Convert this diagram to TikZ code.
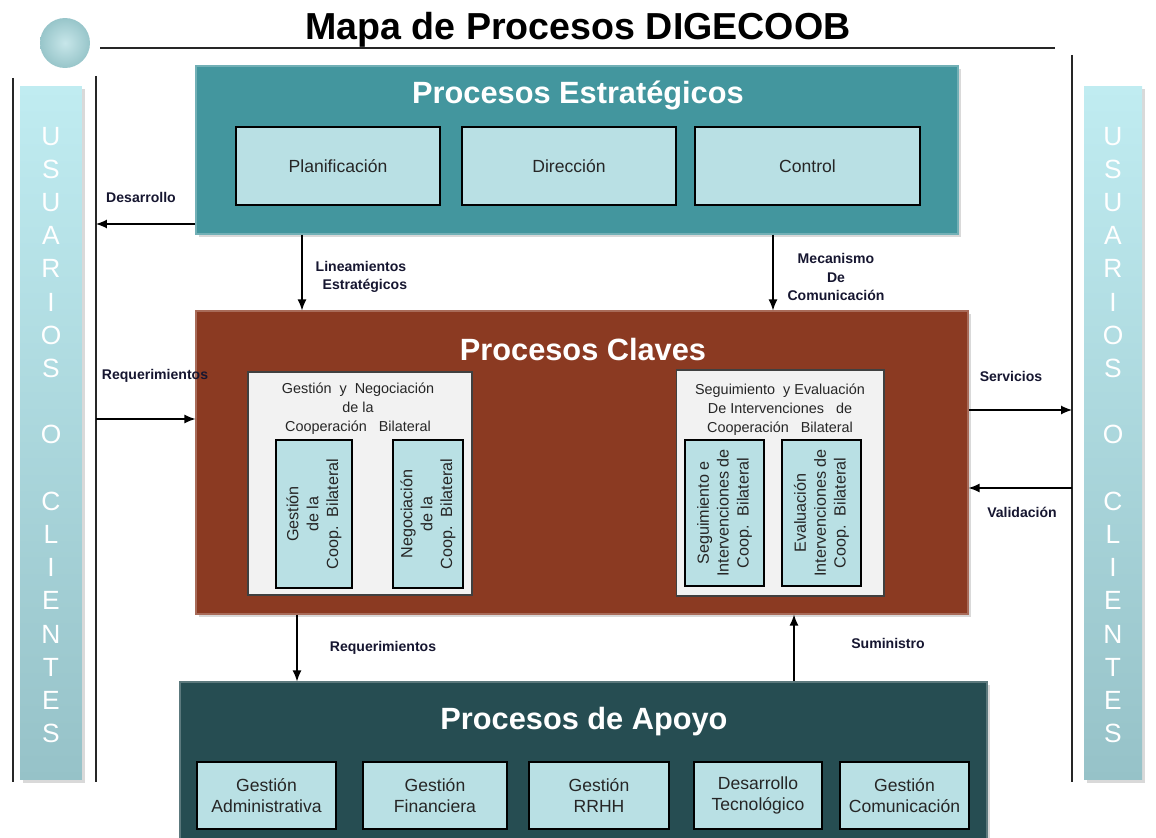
\documentclass[tikz,border=0pt]{standalone}
\usepackage{fontspec}
\setmainfont{Liberation Sans}
\usetikzlibrary{arrows.meta,shadows}

\definecolor{estratcol}{RGB}{67,150,158}
\definecolor{clavecol}{RGB}{139,58,34}
\definecolor{apoyocol}{RGB}{38,77,82}
\definecolor{subfill}{RGB}{185,224,228}
\definecolor{innerfill}{RGB}{242,242,242}
\definecolor{bartop}{RGB}{192,236,241}
\definecolor{barbottom}{RGB}{150,194,200}
\definecolor{labelcol}{RGB}{22,22,48}

\begin{document}
\begin{tikzpicture}[x=0.02cm,y=-0.02cm,
 bigbox/.style ={draw=#1!75!white, line width=0.7pt, fill=#1, inner sep=0pt,
   drop shadow={opacity=0.3,shadow xshift=1.5pt,shadow yshift=-1.5pt}},
 bigtitle/.style ={text=white, font=\bfseries\fontsize{17.5}{20}\selectfont},
 subbox/.style ={draw=black, line width=0.8pt, fill=subfill, inner sep=0pt,
   align=center, text=black!85, font=\fontsize{10}{12}\selectfont},
 innerbox/.style ={draw=black!75, line width=0.6pt, fill=innerfill, inner sep=0pt},
 innerhead/.style ={align=center, text=black!85, font=\fontsize{8.2}{10.8}\selectfont},
 rottext/.style ={rotate=90, align=center, text=black!85, font=\fontsize{9.2}{11.3}\selectfont},
 sidebar/.style ={shade, top color=bartop, bottom color=barbottom, inner sep=0pt,
   drop shadow={opacity=0.3,shadow xshift=1.5pt,shadow yshift=-1.5pt}},
 sidetext/.style ={text=white, align=center, font=\fontsize{15}{18.9}\selectfont},
 sideline/.style ={-,draw=black!85, line width=0.7pt},
 flow/.style ={-{Latex[length=2.2mm,width=1.8mm]}, draw=black, line width=0.7pt},
 flowlabel/.style ={align=center, text=labelcol, font=\bfseries\fontsize{8}{10.5}\selectfont}
 ]
\path[use as bounding box, clip] (0,0) rectangle (1156,838);
%draw title
\node[shade, circle, minimum size=1cm, inner color=subfill!80!white, outer color=estratcol!55!white] (ball) at (65,43) {};
\node[font=\bfseries\fontsize{21.4}{24}\selectfont] (title) at (578,30) {Mapa de Procesos DIGECOOB};
\draw[sideline] (100,48) -- (1055,48);
%draw side bars
\draw[sideline] (13,78) -- (13,782);
\draw[sideline] (96,76) -- (96,782);
\draw[sideline] (1072,55) -- (1072,782);
\node[sidebar, minimum width=1.24cm, minimum height=13.88cm] (usrL) at (51,433) {};
\node[sidebar, minimum width=1.16cm, minimum height=13.88cm] (usrR) at (1113,433) {};
\node[sidetext] (usrLtext) at (51,435) {U\\S\\U\\A\\R\\I\\O\\S\\ \\O\\ \\C\\L\\I\\E\\N\\T\\E\\S};
\node[sidetext] (usrRtext) at (1113,435) {U\\S\\U\\A\\R\\I\\O\\S\\ \\O\\ \\C\\L\\I\\E\\N\\T\\E\\S};
%draw strategic processes
\node[bigbox=estratcol, minimum width=15.24cm, minimum height=3.36cm] (estrat) at (577,150) {};
\node[bigtitle] (estratT) at (578,95) {Procesos Estratégicos};
\node[subbox, minimum width=4.08cm, minimum height=1.56cm] (plan) at (338,166) {Planificación};
\node[subbox, minimum width=4.28cm, minimum height=1.56cm] (dir) at (569,166) {Dirección};
\node[subbox, minimum width=4.5cm, minimum height=1.56cm] (ctrl) at (807.5,166) {Control};
%draw key processes
\node[bigbox=clavecol, minimum width=15.44cm, minimum height=6.06cm] (claves) at (582,462.5) {};
\node[bigtitle] (clavesT) at (583,350) {Procesos Claves};
\node[innerbox, minimum width=4.48cm, minimum height=4.46cm] (gesneg) at (360,483.5) {};
\node[innerhead] (gesnegT) at (358,409) {Gestión\ \ y\ \ Negociación\\de la\\Cooperación\ \ \ Bilateral};
\node[subbox, minimum width=1.52cm, minimum height=2.96cm] (gest) at (314,514) {};
\node[rottext] at (gest) {Gestión\\de la\\Coop.\ \ Bilateral};
\node[subbox, minimum width=1.4cm, minimum height=2.96cm] (nego) at (428,514) {};
\node[rottext] at (nego) {Negociación\\de la\\Coop.\ \ Bilateral};
\node[innerbox, minimum width=4.16cm, minimum height=4.52cm] (segeva) at (780,483) {};
\node[innerhead] (segevaT) at (780,410) {Seguimiento\ \ y Evaluación\\De Intervenciones\ \ \ de\\Cooperación\ \ \ Bilateral};
\node[subbox, minimum width=1.58cm, minimum height=2.92cm] (segu) at (724.5,513) {};
\node[rottext] at (segu) {Seguimiento e\\Intervenciones de\\Coop.\ \ Bilateral};
\node[subbox, minimum width=1.58cm, minimum height=2.92cm] (eval) at (821.5,513) {};
\node[rottext] at (eval) {Evaluación\\Intervenciones de\\Coop.\ \ Bilateral};
%draw support processes
\node[bigbox=apoyocol, minimum width=16.14cm, minimum height=3.36cm] (apoyo) at (583.5,766) {};
\node[bigtitle] (apoyoT) at (584,722) {Procesos de Apoyo};
\node[subbox, minimum width=2.78cm, minimum height=1.34cm] (adm) at (266.5,795.5) {Gestión\\Administrativa};
\node[subbox, minimum width=2.88cm, minimum height=1.34cm] (fin) at (435,795.5) {Gestión\\Financiera};
\node[subbox, minimum width=2.8cm, minimum height=1.34cm] (rrhh) at (599,795.5) {Gestión\\RRHH};
\node[subbox, minimum width=2.56cm, minimum height=1.34cm] (tec) at (758,795.5) {Desarrollo\\Tecnológico};
\node[subbox, minimum width=2.58cm, minimum height=1.34cm] (com) at (904.5,795.5) {Gestión\\Comunicación};
%draw flows
\coordinate (leftline) at (96,0);
\coordinate (rightline) at (1072,0);
\draw[flow] (estrat.west |- 0,224) -- (leftline |- 0,224);
\node[flowlabel] (desa) at (141,197) {Desarrollo};
\draw[flow] (estrat.south -| 302,0) -- (claves.north -| 302,0);
\node[flowlabel] (linea) at (361,277) {Lineamientos\\\ \ Estratégicos};
\draw[flow] (estrat.south -| 773,0) -- (claves.north -| 773,0);
\node[flowlabel] (meca) at (836,277) {Mecanismo\\De\\Comunicación};
\draw[flow] (leftline |- 0,419) -- (claves.west |- 0,419);
\node[flowlabel] (reqL) at (155,376) {Requerimientos};
\draw[flow] (claves.east |- 0,410) -- (rightline |- 0,410);
\node[flowlabel] (serv) at (1011,376) {Servicios};
\draw[flow] (rightline |- 0,488) -- (claves.east |- 0,488);
\node[flowlabel] (vali) at (1022,512) {Validación};
\draw[flow] (claves.south -| 297,0) -- (apoyo.north -| 297,0);
\node[flowlabel] (reqB) at (383,648) {Requerimientos};
\draw[flow] (apoyo.north -| 794,0) -- (claves.south -| 794,0);
\node[flowlabel] (sumi) at (888,643) {Suministro};
\end{tikzpicture}
\end{document}
